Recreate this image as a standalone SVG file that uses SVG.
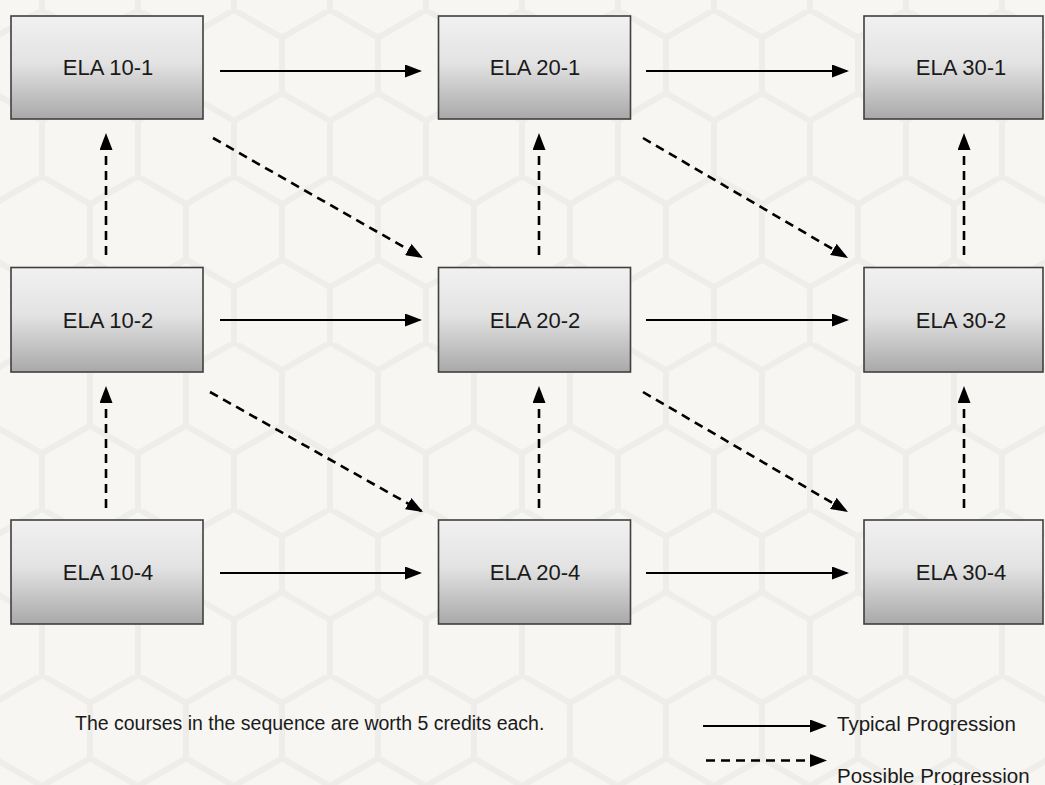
<svg xmlns="http://www.w3.org/2000/svg" width="1045" height="785" viewBox="0 0 1045 785">
  <style>
    .box { stroke: #3f3f3f; stroke-width: 1.6; fill: url(#boxGrad); }
    .lbl { font-family: "Liberation Sans", Arial, sans-serif; font-size: 22px; fill: #1a1a1a; text-anchor: middle; }
    .txt { font-family: "Liberation Sans", Arial, sans-serif; fill: #1a1a1a; }
    .solid { stroke: #000; stroke-width: 2.2; fill: none; marker-end: url(#ah); }
    .dash { stroke: #000; stroke-width: 2.6; fill: none; stroke-dasharray: 9 6; marker-end: url(#ah); }
  </style>
  <defs>
    <linearGradient id="boxGrad" x1="0" y1="0" x2="0" y2="1">
      <stop offset="0" stop-color="#f1f1f1"/>
      <stop offset="0.45" stop-color="#e3e3e3"/>
      <stop offset="1" stop-color="#a9a9a9"/>
    </linearGradient>
    <marker id="ah" viewBox="0 0 17 13" refX="15" refY="6.5" markerWidth="17" markerHeight="13" markerUnits="userSpaceOnUse" orient="auto">
      <path d="M0,0 L17,6.5 L0,13 Z" fill="#000"/>
    </marker>
    <pattern id="hex" patternUnits="userSpaceOnUse" x="-6" y="10" width="96" height="166.3">
      <g fill="none" stroke="#eeede9" stroke-width="6">
        <path d="M48,0 L96,27.7 L96,83.1 L48,110.8 L0,83.1 L0,27.7 Z"/>
        <path d="M48,110.8 L48,166.3"/>
      </g>
    </pattern>
  </defs>

  <rect x="0" y="0" width="1045" height="785" fill="#f7f6f3"/>
  <rect x="0" y="0" width="1045" height="785" fill="url(#hex)"/>

  <g id="connectors">
    <!-- typical progression (horizontal) -->
    <line class="solid" x1="220" y1="71" x2="420" y2="71"/>
    <line class="solid" x1="646" y1="71" x2="847" y2="71"/>
    <line class="solid" x1="220" y1="320" x2="420" y2="320"/>
    <line class="solid" x1="646" y1="320" x2="847" y2="320"/>
    <line class="solid" x1="220" y1="573" x2="420" y2="573"/>
    <line class="solid" x1="646" y1="573" x2="847" y2="573"/>
    <!-- possible progression (vertical) -->
    <line class="dash" x1="106" y1="255" x2="106" y2="135"/>
    <line class="dash" x1="539" y1="255" x2="539" y2="135"/>
    <line class="dash" x1="964" y1="255" x2="964" y2="135"/>
    <line class="dash" x1="106" y1="508" x2="106" y2="388"/>
    <line class="dash" x1="539" y1="508" x2="539" y2="388"/>
    <line class="dash" x1="964" y1="508" x2="964" y2="388"/>
    <!-- possible progression (diagonal) -->
    <line class="dash" x1="213" y1="138" x2="421.3" y2="257"/>
    <line class="dash" x1="643" y1="138" x2="846.3" y2="257"/>
    <line class="dash" x1="210" y1="392" x2="421.3" y2="511"/>
    <line class="dash" x1="643" y1="392" x2="846.3" y2="511"/>
  </g>

  <g id="ela10-1"><rect class="box" x="11" y="16" width="192" height="103"/><text class="lbl" x="108" y="74.5">ELA 10-1</text></g>
  <g id="ela20-1"><rect class="box" x="438.5" y="16" width="192" height="103"/><text class="lbl" x="535" y="74.5">ELA 20-1</text></g>
  <g id="ela30-1"><rect class="box" x="864" y="16" width="179" height="103"/><text class="lbl" x="961" y="74.5">ELA 30-1</text></g>

  <g id="ela10-2"><rect class="box" x="11" y="267.5" width="192" height="104.5"/><text class="lbl" x="108" y="327.5">ELA 10-2</text></g>
  <g id="ela20-2"><rect class="box" x="438.5" y="267.5" width="192" height="104.5"/><text class="lbl" x="535" y="327.5">ELA 20-2</text></g>
  <g id="ela30-2"><rect class="box" x="864" y="267.5" width="179" height="104.5"/><text class="lbl" x="961" y="327.5">ELA 30-2</text></g>

  <g id="ela10-4"><rect class="box" x="11" y="520" width="192" height="104"/><text class="lbl" x="108" y="580">ELA 10-4</text></g>
  <g id="ela20-4"><rect class="box" x="438.5" y="520" width="192" height="104"/><text class="lbl" x="535" y="580">ELA 20-4</text></g>
  <g id="ela30-4"><rect class="box" x="864" y="520" width="179" height="104"/><text class="lbl" x="961" y="580">ELA 30-4</text></g>

  <g id="footnote">
    <text class="txt" x="75" y="730" font-size="19.5">The courses in the sequence are worth 5 credits each.</text>
  </g>

  <g id="legend">
    <line class="solid" x1="703" y1="726" x2="825" y2="726"/>
    <text class="txt" x="837" y="731" font-size="20.5">Typical Progression</text>
    <line class="dash" x1="706" y1="760.5" x2="825" y2="760.5"/>
    <text class="txt" x="837" y="783" font-size="20.5">Possible Progression</text>
  </g>
</svg>
